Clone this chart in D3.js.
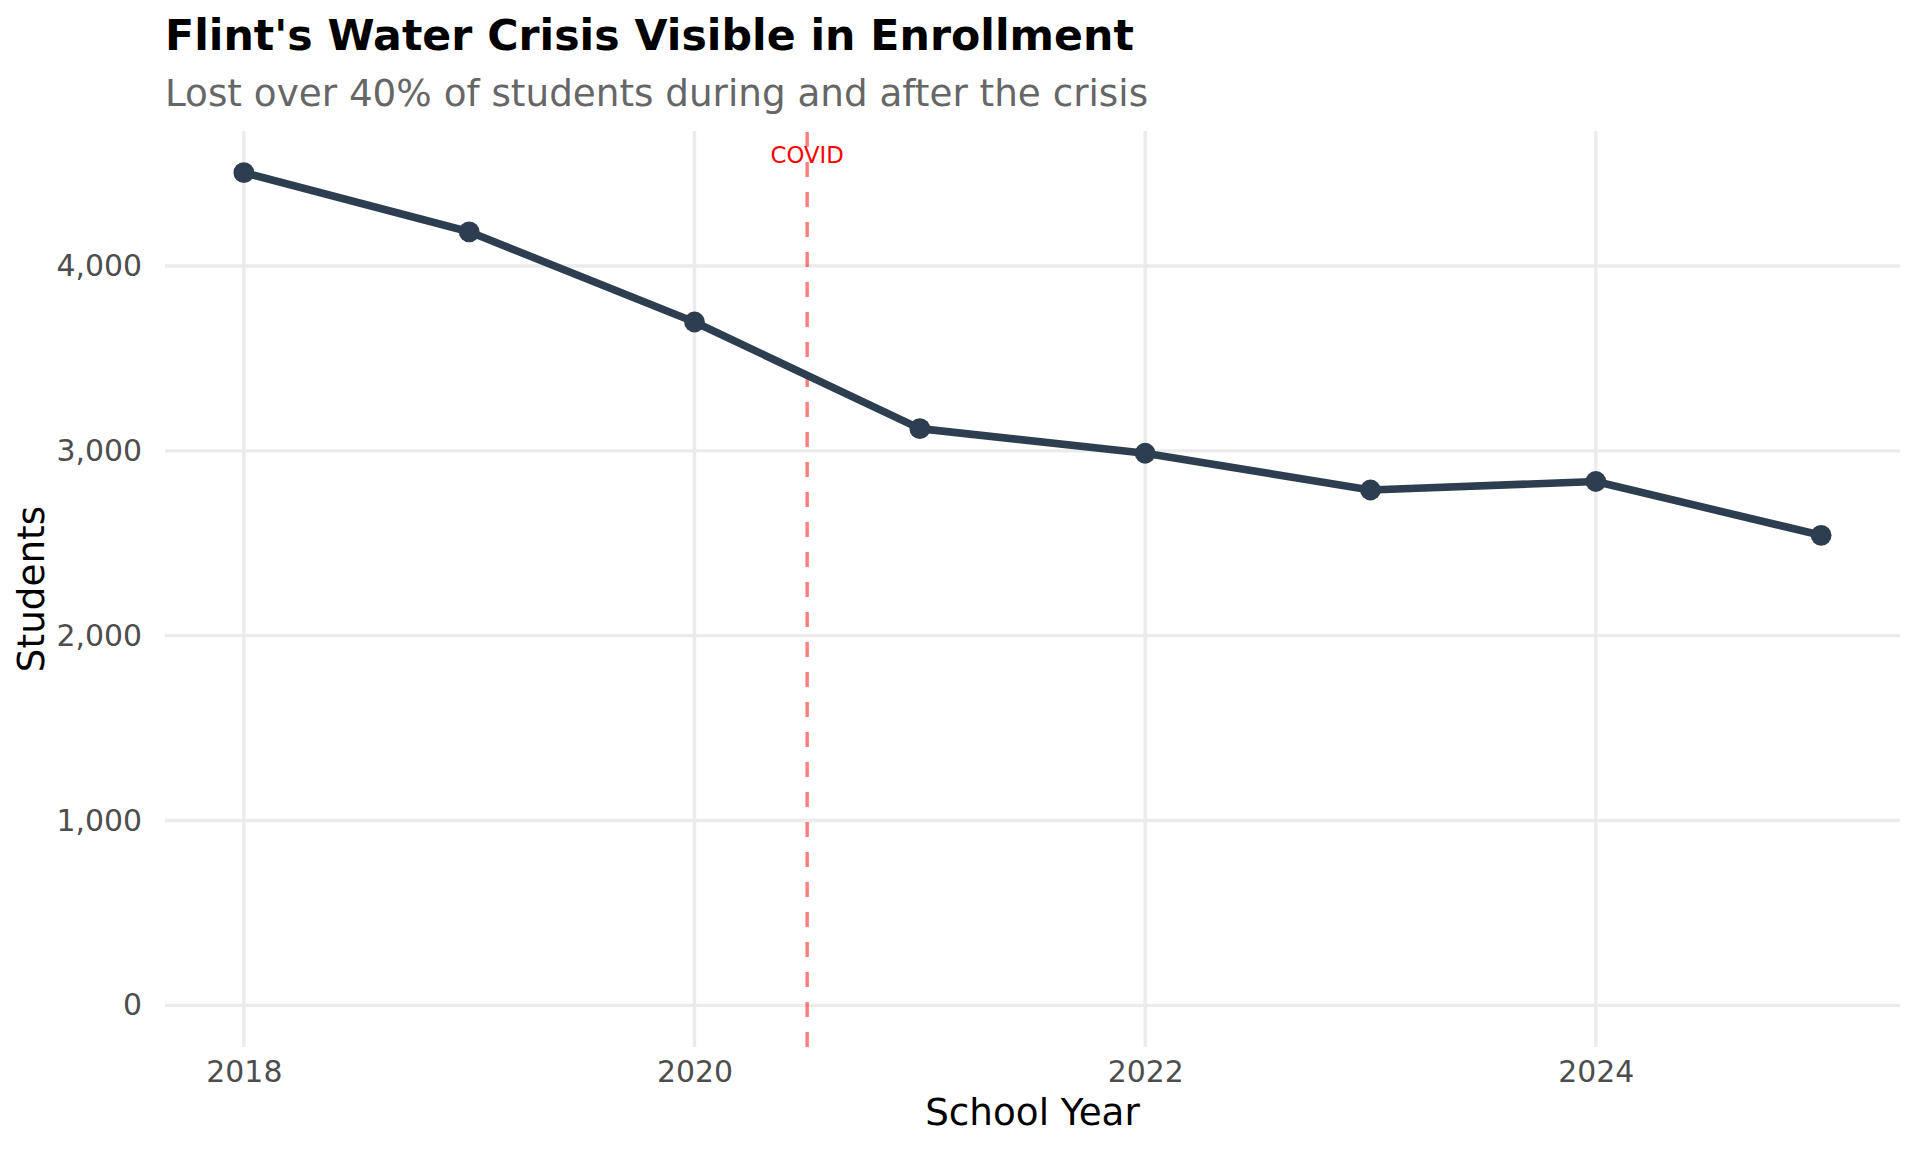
<!DOCTYPE html>
<html>
<head>
<meta charset="utf-8">
<script src="https://cdn.jsdelivr.net/npm/d3@7"></script>
<style>
  html, body { margin: 0; padding: 0; background: #ffffff; }
  svg { display: block; font-family: "DejaVu Sans", sans-serif; }
</style>
</head>
<body>
<svg id="chart" width="1920" height="1152"></svg>
<script>
// ---- data ----
const years = [2018, 2019, 2020, 2021, 2022, 2023, 2024, 2025];
const students = [4505, 4185, 3697, 3120, 2987, 2788, 2834, 2543];
const xTicks = [2018, 2020, 2022, 2024];
const yTicks = [0, 1000, 2000, 3000, 4000];
const eventYear = [2020.5];
const eventLabel = ["COVID"];
const titleText = "Flint's Water Crisis Visible in Enrollment";
const subtitleText = "Lost over 40% of students during and after the crisis";
const xTitle = "School Year";
const yTitle = "Students";

// ---- layout ----
const W = 1920, H = 1152;
const panel = { left: 165, right: 1900, top: 131, bottom: 1047 };

const svg = d3.select("#chart");
svg.append("rect").attr("width", W).attr("height", H).attr("fill", "#ffffff");

// ggplot-style expansion
const xMin = d3.min(years), xMax = d3.max(years);
const xPad = (xMax - xMin) * 0.05;
const x = d3.scaleLinear().domain([xMin - xPad, xMax + xPad]).range([panel.left, panel.right]);

const yLo = 0, yHi = d3.max(students);
const yPad = (yHi - yLo) * 0.05;
const y = d3.scaleLinear().domain([yLo - yPad, yHi + yPad]).range([panel.bottom, panel.top]);

const gridColor = "#ebebeb";
const gridW = 3.4;

// horizontal grid
svg.append("g").selectAll("line").data(yTicks).join("line")
  .attr("x1", panel.left).attr("x2", panel.right)
  .attr("y1", d => y(d)).attr("y2", d => y(d))
  .attr("stroke", gridColor).attr("stroke-width", gridW);

// vertical grid
svg.append("g").selectAll("line").data(xTicks).join("line")
  .attr("x1", d => x(d)).attr("x2", d => x(d))
  .attr("y1", panel.top).attr("y2", panel.bottom)
  .attr("stroke", gridColor).attr("stroke-width", gridW);

// axes (labels only, via d3 axis)
const fmt = d3.format(",");
const yAxis = svg.append("g")
  .attr("transform", `translate(${panel.left},0)`)
  .call(d3.axisLeft(y).tickValues(yTicks).tickFormat(fmt).tickSize(0).tickPadding(23));
yAxis.select(".domain").remove();
yAxis.selectAll("text")
  .attr("font-family", "DejaVu Sans").attr("font-size", 29.9)
  .attr("fill", "#4d4d4d");

const xAxis = svg.append("g")
  .attr("transform", `translate(0,${panel.bottom})`)
  .call(d3.axisBottom(x).tickValues(xTicks).tickFormat(d3.format("d")).tickSize(0).tickPadding(14));
xAxis.select(".domain").remove();
xAxis.selectAll("text")
  .attr("font-family", "DejaVu Sans").attr("font-size", 29.9)
  .attr("fill", "#4d4d4d");

// event line
svg.append("g").selectAll("line").data(eventYear).join("line")
  .attr("x1", d => x(d)).attr("x2", d => x(d))
  .attr("y1", panel.bottom).attr("y2", panel.top)
  .attr("stroke", "#ff0000").attr("stroke-opacity", 0.5)
  .attr("stroke-width", 3.4)
  .attr("stroke-dasharray", "15,15");

// data line
const line = d3.line().x((d, i) => x(years[i])).y(d => y(d));
svg.append("path").datum(students)
  .attr("d", line)
  .attr("fill", "none")
  .attr("stroke", "#2c3e50")
  .attr("stroke-width", 7.6)
  .attr("stroke-linejoin", "round");

// points
svg.append("g").selectAll("circle").data(students).join("circle")
  .attr("cx", (d, i) => x(years[i]))
  .attr("cy", d => y(d))
  .attr("r", 10.4)
  .attr("fill", "#2c3e50");

// event label
svg.append("g").selectAll("text").data(eventYear).join("text")
  .attr("x", d => x(d))
  .attr("y", 163)
  .attr("text-anchor", "middle")
  .attr("font-family", "DejaVu Sans")
  .attr("font-size", 22.8)
  .attr("fill", "#ff0000")
  .text((d, i) => eventLabel[i]);

// titles
svg.append("text")
  .attr("x", panel.left).attr("y", 49.5)
  .attr("font-family", "DejaVu Sans").attr("font-weight", "bold")
  .attr("font-size", 42.7).attr("fill", "#000000")
  .text(titleText);

svg.append("text")
  .attr("x", panel.left).attr("y", 105.5)
  .attr("font-family", "DejaVu Sans")
  .attr("font-size", 37.3).attr("fill", "#666666")
  .text(subtitleText);

svg.append("text")
  .attr("x", (panel.left + panel.right) / 2).attr("y", 1125)
  .attr("text-anchor", "middle")
  .attr("font-family", "DejaVu Sans")
  .attr("font-size", 37.3).attr("fill", "#000000")
  .text(xTitle);

svg.append("text")
  .attr("transform", `translate(44,${(panel.top + panel.bottom) / 2}) rotate(-90)`)
  .attr("text-anchor", "middle")
  .attr("font-family", "DejaVu Sans")
  .attr("font-size", 37.3).attr("fill", "#000000")
  .text(yTitle);
</script>
</body>
</html>
